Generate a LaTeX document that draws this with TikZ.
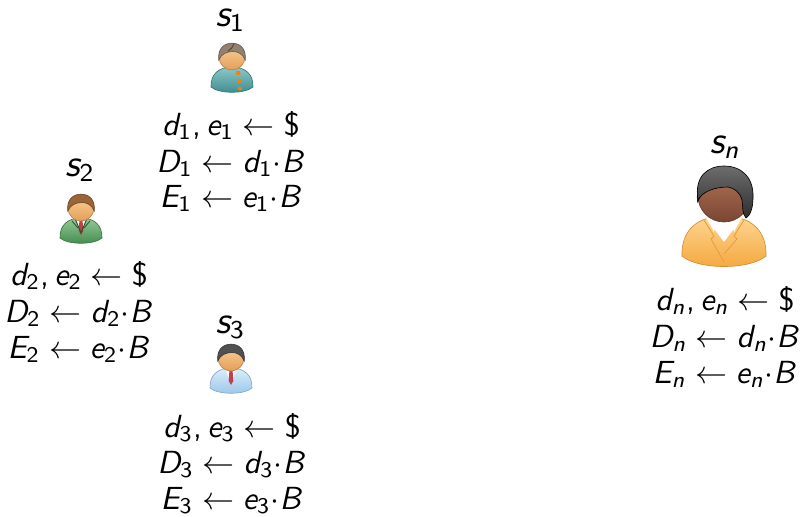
\documentclass[tikz,border=0pt]{standalone}
% sans-serif math letters and digits (Computer Modern Sans)
\DeclareSymbolFont{sfletters}{OT1}{cmss}{m}{sl}
\DeclareSymbolFont{sfupright}{OT1}{cmss}{m}{n}
\DeclareMathSymbol{d}{\mathalpha}{sfletters}{`d}
\DeclareMathSymbol{e}{\mathalpha}{sfletters}{`e}
\DeclareMathSymbol{s}{\mathalpha}{sfletters}{`s}
\DeclareMathSymbol{n}{\mathalpha}{sfletters}{`n}
\DeclareMathSymbol{B}{\mathalpha}{sfletters}{`B}
\DeclareMathSymbol{D}{\mathalpha}{sfletters}{`D}
\DeclareMathSymbol{E}{\mathalpha}{sfletters}{`E}
\DeclareMathSymbol{1}{\mathalpha}{sfupright}{`1}
\DeclareMathSymbol{2}{\mathalpha}{sfupright}{`2}
\DeclareMathSymbol{3}{\mathalpha}{sfupright}{`3}
\DeclareMathSymbol{,}{\mathpunct}{sfupright}{`,}
\DeclareMathSymbol{\sfdollar}{\mathord}{sfupright}{`\$}

\definecolor{skinA}{HTML}{F9D29A}
\definecolor{skinB}{HTML}{E59E58}
\definecolor{darkskinA}{HTML}{B37358}
\definecolor{darkskinB}{HTML}{7A4632}
\definecolor{tieRed}{HTML}{C0404A}
\definecolor{tealA}{HTML}{8CC8C8}
\definecolor{tealB}{HTML}{3E8A8C}
\definecolor{greenA}{HTML}{98C898}
\definecolor{greenB}{HTML}{3F8A4C}
\definecolor{blueA}{HTML}{DCEEFA}
\definecolor{blueB}{HTML}{98C6EA}
\definecolor{orangeA}{HTML}{FDD690}
\definecolor{orangeB}{HTML}{F5A63C}
\definecolor{hairGrey}{HTML}{94806F}
\definecolor{hairBrown}{HTML}{9A6538}
\definecolor{hairDark}{HTML}{505050}
\definecolor{hairBlack}{HTML}{2E2E2E}

\tikzset{
  formula/.style={anchor=base, inner sep=0pt, font=\fontsize{10}{12}\selectfont},
  sname/.style={anchor=base, inner sep=0pt, font=\fontsize{12}{14}\selectfont},
  % shoulders of a person icon: light and dark body colour
  pics/person/.style 2 args={code={
    \path[top color=#1, bottom color=#2, draw=#2!85!black, line width=0.2pt]
      (-21,19) .. controls (-21.5,6) and (-13,-1) .. (0,-1)
      .. controls (13,-1) and (21.5,6) .. (21,19)
      .. controls (13,26) and (-13,26) .. cycle;
  }},
  % head with hair: hair colour, skin light/dark
  pics/head/.style n args={3}{code={
    \path[top color=#2, bottom color=#3, draw=#3!80!black, line width=0.2pt]
      (0,-11) circle (13);
    \path[fill=#1, draw=#1!70!black, line width=0.2pt]
      (-13.2,-8) .. controls (-14.5,-20) and (-7.5,-24.8) .. (0,-24.8)
      .. controls (7.5,-24.8) and (14.5,-20) .. (13.2,-8)
      .. controls (11,-14) and (6,-16.5) .. (1,-16.5)
      .. controls (-5,-16.5) and (-11,-14) .. cycle;
  }},
  pics/parting/.style={code={
    \draw[hairGrey!55!black, line width=0.3pt] (2,-24.6) .. controls (0,-20) .. (-4,-16.8);
  }},
  pics/shirttie/.style={code={
    \fill[white] (-5.5,0.5) -- (5.5,0.5) -- (0,14) -- cycle;
    \fill[tieRed] (-1.6,2) -- (1.6,2) -- (2.3,12) -- (0,16) -- (-2.3,12) -- cycle;
  }},
  pics/buttons/.style={code={
    \draw[orange!80!brown, line width=1.2pt, dash pattern=on 1.2pt off 1.3pt] (6,3) -- (8,22);
  }},
  pics/lapels/.style={code={
    \draw[greenB!60!black, line width=0.3pt] (-5.5,0.5) -- (0,14) -- (5.5,0.5);
    \draw[greenB!70!black, line width=0.3pt] (-9,2) -- (-3,9) (9,2) -- (3,9);
  }},
  pics/collar/.style={code={
    \fill[white] (-9,0) -- (9,0) -- (0,12) -- cycle;
    \fill[white] (-9,-0.5) -- (-4,2) -- (-5,7) -- cycle;
    \fill[white] (9,-0.5) -- (4,2) -- (5,7) -- cycle;
    \draw[orangeB!75!brown, line width=0.25pt] (-10,1) -- (-5,9) -- (-6.5,10.5) -- (0,22);
    \draw[orangeB!75!brown, line width=0.25pt] (10,1) -- (5,9) -- (6.5,10.5) -- (0,18);
  }},
  % bob hair cut for the large icon
  pics/bob/.style={code={
    \path[top color=hairBlack!70, bottom color=hairBlack, draw=black, line width=0.2pt]
      (-13,-9) .. controls (-15,-21) and (-8,-26) .. (0,-26)
      .. controls (9,-26) and (15,-20) .. (14.5,-10)
      .. controls (14.5,-5) and (13,-1) .. (11,0)
      .. controls (9,-2) and (9.5,-6) .. (9,-9)
      .. controls (8,-13) and (5,-15) .. (2,-15.5)
      .. controls (-5,-15.5) and (-11,-13) .. cycle;
  }}
}

\begin{document}
\begin{tikzpicture}[x=0.3125pt, y=-0.3125pt]
\useasboundingbox (0,0) rectangle (800,517);

% ---- s_1 ----
\node[sname] (s1) at (230.5,26) {$s_1$};
\coordinate (p1) at (232,68);
\pic at (p1) {person={tealA}{tealB}};
\pic at (p1) {buttons};
\pic at (p1) {head={hairGrey}{skinA}{skinB}};
\pic at (p1) {parting};
\node[formula] (d1) at (231,135) {$d_1, e_1 \leftarrow \sfdollar$};
\node[formula] (D1) at (231,172) {$D_1 \leftarrow d_1{\cdot}B$};
\node[formula] (E1) at (231,207) {$E_1 \leftarrow e_1{\cdot}B$};

% ---- s_2 ----
\node[sname] (s2) at (80,176) {$s_2$};
\coordinate (p2) at (81,219);
\pic at (p2) {person={greenA}{greenB}};
\pic at (p2) {shirttie};
\pic at (p2) {lapels};
\pic at (p2) {head={hairBrown}{skinA}{skinB}};
\node[formula] (d2) at (79,285) {$d_2, e_2 \leftarrow \sfdollar$};
\node[formula] (D2) at (79,322) {$D_2 \leftarrow d_2{\cdot}B$};
\node[formula] (E2) at (79,358) {$E_2 \leftarrow e_2{\cdot}B$};

% ---- s_3 ----
\node[sname] (s3) at (230.5,333) {$s_3$};
\coordinate (p3) at (231,369);
\pic at (p3) {person={blueA}{blueB}};
\pic at (p3) {shirttie};
\pic at (p3) {head={hairDark}{skinA}{skinB}};
\node[formula] (d3) at (232,437) {$d_3, e_3 \leftarrow \sfdollar$};
\node[formula] (D3) at (232,473) {$D_3 \leftarrow d_3{\cdot}B$};
\node[formula] (E3) at (232,509) {$E_3 \leftarrow e_3{\cdot}B$};

% ---- s_n ----
\node[sname] (sn) at (725,153) {$s_n$};
\coordinate (pn) at (724,218);
\pic[scale=2] at (pn) {person={orangeA}{orangeB}};
\pic[scale=2] at (pn) {collar};
\pic[scale=2] at (pn) {head={hairBlack}{darkskinA}{darkskinB}};
\pic[scale=2] at (pn) {bob};
\node[formula] (dn) at (725,310) {$d_n, e_n \leftarrow \sfdollar$};
\node[formula] (Dn) at (725,347) {$D_n \leftarrow d_n{\cdot}B$};
\node[formula] (En) at (725,383) {$E_n \leftarrow e_n{\cdot}B$};
\end{tikzpicture}
\end{document}
